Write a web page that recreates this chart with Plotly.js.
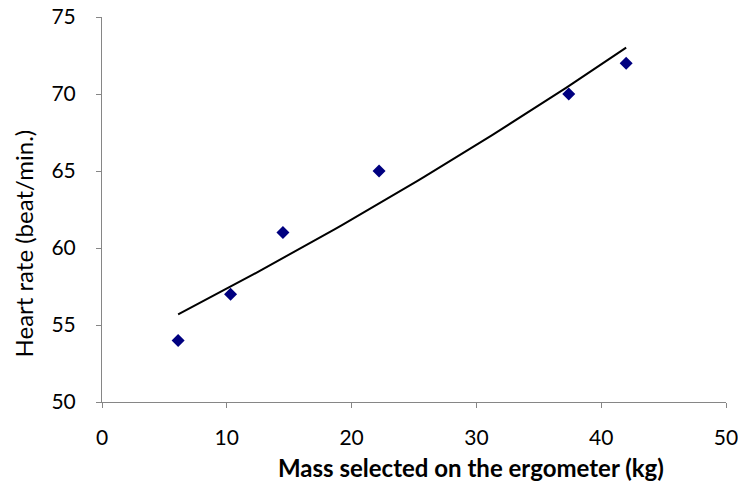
<!DOCTYPE html>
<html>
<head>
<meta charset="utf-8">
<script src="https://cdn.plot.ly/plotly-3.0.1.min.js"></script>
<style>html,body{margin:0;padding:0;background:#fff;}#chart{width:738px;height:487px;}</style>
</head>
<body>
<div id="chart"></div>
<script>
// Data
var massKg = [6.1, 10.3, 14.5, 22.2, 37.4, 42];
var heartRate = [54, 57, 61, 65, 70, 72];
var xTicks = [0, 10, 20, 30, 40, 50];
var yTicks = [50, 55, 60, 65, 70, 75];
var xTitle = 'Mass selected on the ergometer (kg)';
var yTitle = 'Heart rate (beat/min.)';

// Exponential trendline (least squares on ln y), as in the spreadsheet chart
var n = massKg.length;
var lny = heartRate.map(function (v) { return Math.log(v); });
var mx = massKg.reduce(function (a, b) { return a + b; }, 0) / n;
var my = lny.reduce(function (a, b) { return a + b; }, 0) / n;
var sxy = 0, sxx = 0;
for (var i = 0; i < n; i++) { sxy += (massKg[i] - mx) * (lny[i] - my); sxx += (massKg[i] - mx) * (massKg[i] - mx); }
var b = sxy / sxx, a = Math.exp(my - b * mx);
var xmin = Math.min.apply(null, massKg), xmax = Math.max.apply(null, massKg);
var trendX = [], trendY = [];
for (var k = 0; k <= 60; k++) { var x = xmin + (xmax - xmin) * k / 60; trendX.push(x); trendY.push(a * Math.exp(b * x)); }

var font = "Lato, 'Open Sans', 'Liberation Sans', sans-serif";
var data = [
  { x: trendX, y: trendY, mode: 'lines', line: { color: '#000000', width: 2 }, hoverinfo: 'skip' },
  { x: massKg, y: heartRate, mode: 'markers', marker: { symbol: 'diamond', size: 10, color: '#000080' } }
];
var layout = {
  width: 738, height: 487,
  margin: { l: 102, r: 12, t: 17, b: 85 },
  showlegend: false,
  paper_bgcolor: '#ffffff', plot_bgcolor: '#ffffff',
  font: { family: font, size: 21, color: '#000000' },
  xaxis: {
    range: [0, 50], tickvals: xTicks, ticktext: xTicks.map(String),
    showgrid: false, zeroline: false, showline: true, linecolor: '#868686', linewidth: 1,
    ticks: 'outside', ticklen: 5, tickcolor: '#868686', ticklabelstandoff: 12,
    ticklabeloverflow: 'allow',
    tickfont: { family: font, size: 21 }
  },
  yaxis: {
    range: [50, 75], tickvals: yTicks, ticktext: yTicks.map(String),
    showgrid: false, zeroline: false, showline: true, linecolor: '#868686', linewidth: 1,
    ticks: 'outside', ticklen: 5, tickcolor: '#868686', ticklabelstandoff: 16,
    ticklabeloverflow: 'allow',
    tickfont: { family: font, size: 21 }
  },
  annotations: [
    { text: '<b>' + xTitle + '</b>', xref: 'paper', yref: 'paper', x: 0.591, y: -0.1714,
      xanchor: 'center', yanchor: 'middle', showarrow: false, font: { family: font, size: 24, color: '#000' } },
    { text: yTitle, xref: 'paper', yref: 'paper', x: -0.1266, y: 0.4117, textangle: -90,
      xanchor: 'center', yanchor: 'middle', showarrow: false, font: { family: font, size: 24, color: '#000' } }
  ]
};
Plotly.newPlot('chart', data, layout, { displayModeBar: false, staticPlot: true });
</script>
</body>
</html>
